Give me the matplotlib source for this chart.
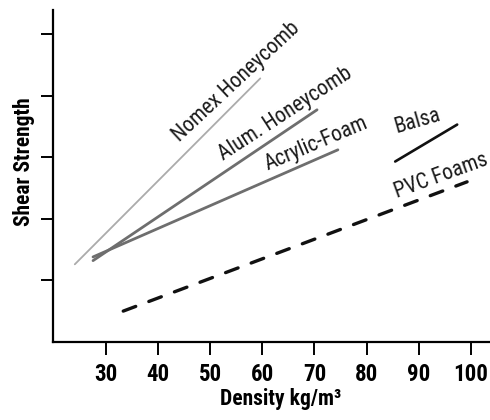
import numpy as np
import matplotlib
matplotlib.use("Agg")
import matplotlib.pyplot as plt

# Core material shear strength vs density (arbitrary strength units)
nomex_x = [24.0, 59.6]
nomex_y = [1.26, 4.28]
alum_x = [27.5, 70.5]
alum_y = [1.32, 3.77]
acrylic_x = [27.5, 74.5]
acrylic_y = [1.38, 3.12]
balsa_x = [85.5, 97.4]
balsa_y = [2.93, 3.53]
pvc_x = [33.3, 99.3]
pvc_y = [0.50, 2.60]

x_ticks = [30, 40, 50, 60, 70, 80, 90, 100]
y_ticks = [1, 2, 3, 4, 5]

plt.rcParams['font.family'] = ['Roboto Condensed', 'Barlow Condensed',
                               'Archivo Narrow', 'DejaVu Sans']

fig = plt.figure(figsize=(4.9, 4.2), dpi=100)
ax = fig.add_axes([0.108, 0.186, 0.892, 0.79])

ax.plot(nomex_x, nomex_y, color='#ababab', lw=1.3, solid_capstyle='round')
ax.plot(alum_x, alum_y, color='#6e6e6e', lw=2.0, solid_capstyle='round')
ax.plot(acrylic_x, acrylic_y, color='#6e6e6e', lw=2.0, solid_capstyle='round')
ax.plot(balsa_x, balsa_y, color='#111111', lw=1.9, solid_capstyle='round')
ax.plot(pvc_x, pvc_y, color='#111111', lw=2.4, dashes=(4.0, 4.2),
        dash_capstyle='round')

lab = dict(ha='center', va='center', rotation_mode='anchor',
           fontsize=15.5, color='#1a1a1a')
ax.text(55.0, 4.22, 'Nomex Honeycomb', rotation=43, **lab)
ax.text(64.5, 3.71, 'Alum. Honeycomb', rotation=33, **lab)
ax.text(70.3, 3.22, 'Acrylic-Foam', rotation=23, **lab)
ax.text(89.7, 3.58, 'Balsa', rotation=16, **lab)
ax.text(94.3, 2.70, 'PVC Foams', rotation=20, **lab)

ax.set_xlim(19.8, 103.7)
ax.set_ylim(0.0, 5.39)
ax.set_xticks(x_ticks)
ax.set_yticks(y_ticks)
ax.set_yticklabels([])
ax.tick_params(axis='x', direction='out', length=9, width=1.4, pad=6,
               labelsize=16.5)
ax.tick_params(axis='y', direction='out', length=9, width=1.4)
for t in ax.get_xticklabels():
    t.set_fontweight('bold')

for s in ['top', 'right']:
    ax.spines[s].set_visible(False)
for s in ['left', 'bottom']:
    ax.spines[s].set_linewidth(1.6)

ax.set_xlabel('Density kg/m³', fontsize=15.5, fontweight='bold')
ax.xaxis.set_label_coords(0.52, -0.14)
ax.set_ylabel('Shear Strength', fontsize=15.5, fontweight='bold')
ax.yaxis.set_label_coords(-0.041, 0.542)

fig.savefig('out.png', dpi=100)
